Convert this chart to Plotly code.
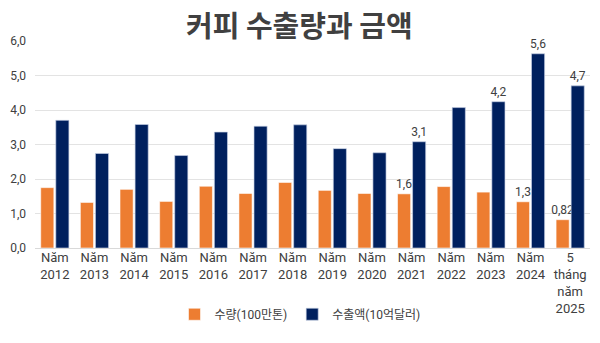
import plotly.graph_objects as go

categories = ["Năm<br>2012", "Năm<br>2013", "Năm<br>2014", "Năm<br>2015", "Năm<br>2016",
              "Năm<br>2017", "Năm<br>2018", "Năm<br>2019", "Năm<br>2020", "Năm<br>2021",
              "Năm<br>2022", "Năm<br>2023", "Năm<br>2024", "5<br>tháng<br>năm<br>2025"]
volume = [1.75, 1.32, 1.70, 1.35, 1.79, 1.58, 1.90, 1.67, 1.58, 1.57, 1.78, 1.62, 1.34, 0.82]
value = [3.70, 2.74, 3.58, 2.68, 3.36, 3.53, 3.57, 2.88, 2.76, 3.08, 4.07, 4.24, 5.63, 4.70]
volume_labels = ["", "", "", "", "", "", "", "", "", "1,6", "", "", "1,3", "0,82"]
value_labels = ["", "", "", "", "", "", "", "", "", "3,1", "", "4,2", "5,6", "4,7"]
y_ticks = [0, 1, 2, 3, 4, 5, 6]

font = "Roboto, Noto Sans CJK KR, sans-serif"
grey = "#404040"

fig = go.Figure()
fig.add_trace(go.Bar(
    x=categories, y=volume, name="수량(100만톤)",
    marker=dict(color="#ED7D31", line=dict(color="rgba(255,255,255,0.7)", width=0.8)),
    text=volume_labels, textposition="outside", cliponaxis=False, constraintext="none",
    textfont=dict(size=12, color=grey, family=font),
))
fig.add_trace(go.Bar(
    x=categories, y=value, name="수출액(10억달러)",
    marker=dict(color="#00205E", line=dict(color="rgba(200,210,230,0.8)", width=0.8)),
    text=value_labels, textposition="outside", cliponaxis=False, constraintext="none",
    textfont=dict(size=12, color=grey, family=font),
))

fig.update_layout(
    width=600, height=343,
    margin=dict(l=35, r=10, t=41, b=95),
    paper_bgcolor="white", plot_bgcolor="white",
    separators=", ",
    barmode="group", bargap=0.24, bargroupgap=0.13,
    font=dict(family=font, color=grey, size=12),
    showlegend=True,
    legend=dict(orientation="h", x=(300 - 35) / 555, xanchor="center", y=-0.32, yanchor="middle",
                font=dict(size=12, color=grey, family=font), itemwidth=30,
                traceorder="normal"),
    annotations=[dict(
        text="<b>커피 수출량과 금액</b>", xref="paper", yref="paper",
        x=(299 - 35) / 555, y=(248 - 24) / 207, xanchor="center", yanchor="middle",
        showarrow=False, font=dict(size=29, color=grey, family="Noto Sans CJK KR"),
    )],
    shapes=[dict(type="line", xref="paper", yref="y",
                 x0=(227 - 35) / 555, x1=(368 - 35) / 555, y0=6, y1=6,
                 line=dict(color="white", width=2), layer="below")],
)
fig.update_xaxes(
    tickfont=dict(size=13, color=grey, family=font),
    showgrid=False, showline=False, ticks="",
)
fig.update_yaxes(
    range=[0, 6], tickvals=y_ticks, tickformat=".1f",
    showgrid=True, gridcolor="#E3E3E3", gridwidth=1,
    zeroline=True, zerolinecolor="#D9D9D9", zerolinewidth=1,
    tickfont=dict(size=12, color=grey, family=font),
    ticks="", ticklabelstandoff=8,
)

fig.write_html("out.html")
